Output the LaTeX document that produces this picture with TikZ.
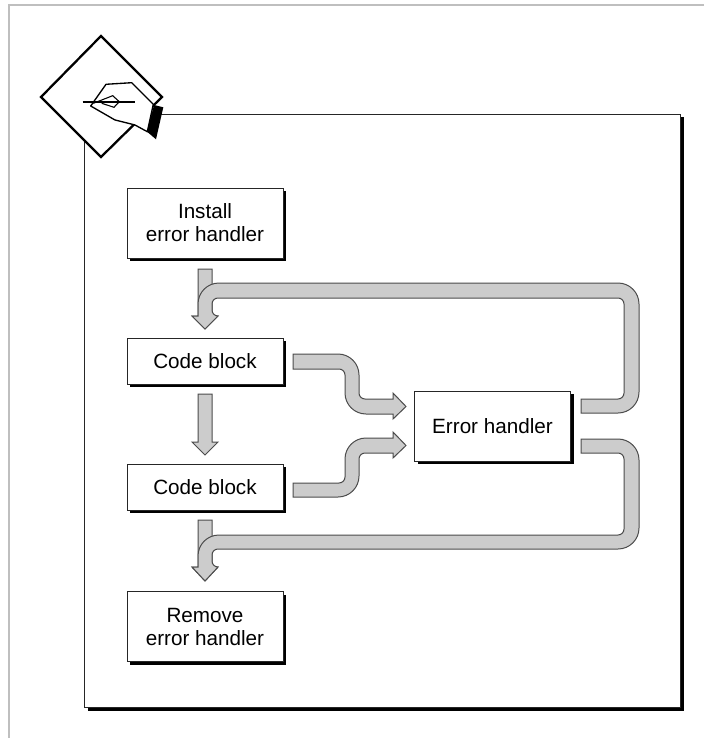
\documentclass[tikz,border=0pt]{standalone}
\usepackage{fontspec}
\setmainfont{Liberation Sans}
\usetikzlibrary{shadows}
\tikzset{
  pxscale/.style={x=0.75pt,y=-0.75pt},
  frameline/.style={draw=black!25,line width=1.5pt},
  shadowed/.style={draw=black!85,line width=0.75pt,fill=white,
    drop shadow={shadow xshift=2.25pt,shadow yshift=-2.25pt,fill=black,opacity=1}},
  stepbox/.style={shadowed,minimum width=117pt,align=center,inner sep=0pt,
    font=\fontsize{15.5}{17.25}\selectfont},
  bandarrow/.style={draw=black!70,fill=black!20,line width=0.75pt,line join=miter},
  ci/.style={rounded corners=4.5pt},
  co/.style={rounded corners=15.75pt},
  handline/.style={draw=black,line width=1pt,fill=white,line join=round}
}
\begin{document}
\begin{tikzpicture}[pxscale]
\useasboundingbox (0,0) rectangle (704,738);
% outer frame
\coordinate (frameTL) at (9,5);
\draw[frameline] (704,5) -- (frameTL) -- (9,738);
% panel
\node[shadowed,anchor=north west,minimum width=447pt,minimum height=444.75pt,inner sep=0pt] (panel) at (84,114) {};
% note diamond
\draw[draw=black,line width=1.7pt,fill=white,line join=miter] (101,36) -- (162,97) -- (101,157) -- (41,97) -- cycle;
% hand
\draw[handline] (90.7,106) -- (106,84.3) -- (131.7,82.7) -- (153.3,104.3) -- (147.3,131.7) -- (135,125) -- (115,120) -- cycle;
\fill[black] (154,105) -- (163.3,107.3) -- (156,139.3) -- (147,131.7) -- cycle;
\draw[draw=black,line width=0.8pt] (93.3,103.3) -- (112.7,95.7) -- (119.3,101.7) -- (114,107.3) -- (101.7,103.3);
\draw[draw=black,line width=1.5pt] (82.7,102.3) -- (135,102.3);
% boxes
\node[stepbox,minimum height=52.5pt] (install) at (205,223) {Install\\error handler};
\node[stepbox,minimum height=34.5pt] (code1) at (205,361) {Code block};
\node[stepbox,minimum height=34.5pt] (code2) at (205,487) {Code block};
\node[stepbox,minimum height=52.5pt] (remove) at (205,626.5) {Remove\\error handler};
\node[stepbox,minimum height=52.5pt] (err) at (492.5,426) {Error handler};
% straight arrows
\coordinate (tipA) at (205,329);
\coordinate (tipB) at (205,455);
\coordinate (tipC) at (205,581);
\draw[bandarrow] (198,269) -- (212,269) -- (212,316) -- (218,316) -- (tipA) -- (192,316) -- (198,316) -- cycle;
\draw[bandarrow] (198,394) -- (212,394) -- (212,442) -- (218,442) -- (tipB) -- (192,442) -- (198,442) -- cycle;
\draw[bandarrow] (198,520) -- (212,520) -- (212,567) -- (218,567) -- (tipC) -- (192,567) -- (198,567) -- cycle;
% feedback into first block
\draw[bandarrow] (581,399) [ci] -- (624,399) -- (624,298) -- (212,298) -- (212,316) [sharp corners] -- (218,316) -- (tipA) -- (192,316) -- (198,316) [co] -- (198,283) -- (639,283) -- (639,413) [sharp corners] -- (581,413) -- cycle;
% error handler to remove
\draw[bandarrow] (581,439) [co] -- (639,439) -- (639,549) [ci] -- (212,549) -- (212,567) [sharp corners] -- (218,567) -- (tipC) -- (192,567) -- (198,567) [co] -- (198,535) [ci] -- (624,535) -- (624,453) [sharp corners] -- (581,453) -- cycle;
% code blocks to error handler
\coordinate (tipD) at (406,406.5);
\coordinate (tipE) at (406,445.5);
\draw[bandarrow] (293,354) [co] -- (359,354) [ci] -- (359,399) [sharp corners] -- (393,399) -- (393,393) -- (tipD) -- (393,419) -- (393,414) [co] -- (345,414) [ci] -- (345,369) [sharp corners] -- (293,369) -- cycle;
\draw[bandarrow] (293,483) [ci] -- (345,483) [co] -- (345,438) [sharp corners] -- (393,438) -- (393,432) -- (tipE) -- (393,458) -- (393,453) [ci] -- (359,453) [co] -- (359,497) [sharp corners] -- (293,497) -- cycle;
\end{tikzpicture}
\end{document}
